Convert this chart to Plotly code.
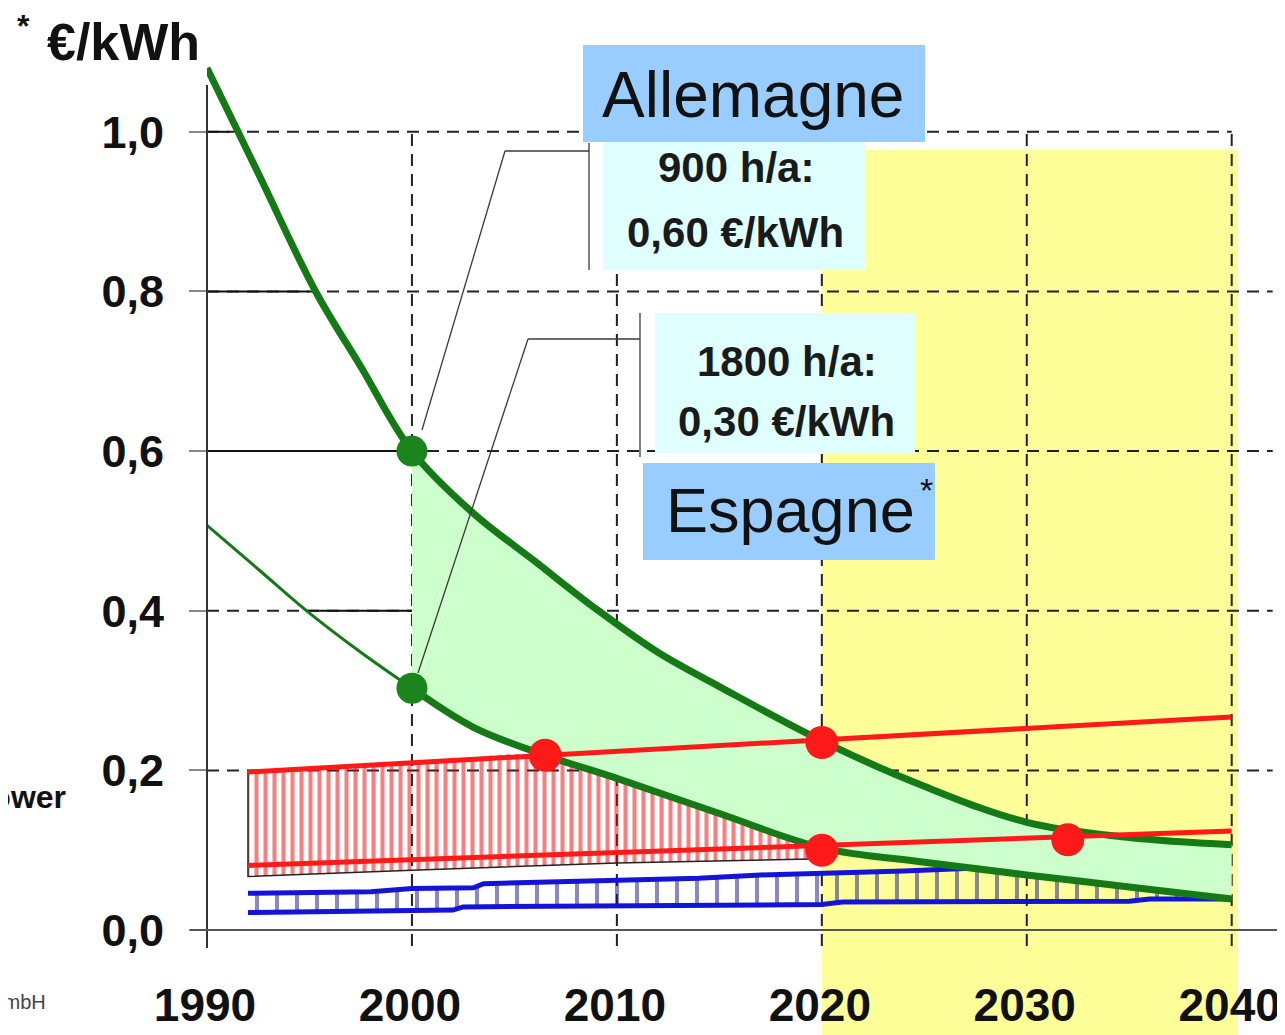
import plotly.graph_objects as go

# ---------------- data ----------------
x_tick_vals = [1990, 2000, 2010, 2020, 2030, 2040]
x_tick_text = ["1990", "2000", "2010", "2020", "2030", "2040"]
y_tick_vals = [0.0, 0.2, 0.4, 0.6, 0.8, 1.0]
y_tick_text = ["0,0", "0,2", "0,4", "0,6", "0,8", "1,0"]

# PV cost, 900 h/a (Allemagne)
upper_years = [1990, 1992.5, 1995.3, 1997.5, 2000, 2003, 2006, 2009, 2012, 2015, 2020, 2025, 2030, 2035, 2040]
upper_cost = [1.08, 0.948, 0.80, 0.706, 0.60, 0.522, 0.462, 0.402, 0.348, 0.305, 0.237, 0.180, 0.135, 0.116, 0.107]

# PV cost, 1800 h/a (Espagne)
lower_years = [1990, 1992.5, 1995, 1997.5, 2000, 2003, 2006.5, 2010, 2015, 2020, 2025, 2030, 2035, 2040]
lower_cost = [0.507, 0.452, 0.397, 0.348, 0.303, 0.254, 0.219, 0.190, 0.146, 0.103, 0.085, 0.069, 0.054, 0.039]

# retail power price band (red)
red_hi_years = [1992, 2040]
red_hi_cost = [0.198, 0.267]
red_lo_years = [1992, 2040]
red_lo_cost = [0.081, 0.124]

# red hatched area boundaries
hatch_bot_years = [1992, 1992, 2000, 2010, 2019.5]
hatch_bot_cost = [0.198, 0.067, 0.075, 0.084, 0.089]
hatch_top_years = [1992, 2000, 2006.5, 2010, 2015, 2019.5]
hatch_top_cost = [0.198, 0.209, 0.219, 0.190, 0.146, 0.106]

# bulk power band (blue)
blue_lo_years = [1992, 2002, 2002.5, 2012, 2020, 2021, 2035, 2036, 2040]
blue_lo_cost = [0.022, 0.025, 0.029, 0.031, 0.032, 0.035, 0.036, 0.039, 0.039]
blue_hi_years = [1992, 1998, 2000, 2003, 2003.5, 2007, 2010, 2014, 2017, 2021, 2024, 2027]
blue_hi_cost = [0.046, 0.048, 0.052, 0.053, 0.058, 0.060, 0.063, 0.065, 0.069, 0.071, 0.074, 0.077]
blue_env_years = [1992, 1998, 2000, 2003, 2003.5, 2007, 2010, 2014, 2017, 2021, 2024, 2027, 2030, 2035, 2040]
blue_env_cost = [0.046, 0.048, 0.052, 0.053, 0.058, 0.060, 0.063, 0.065, 0.069, 0.071, 0.074, 0.077, 0.069, 0.054, 0.039]

green_dot_years = [2000, 2000]
green_dot_cost = [0.60, 0.303]
red_dot_years = [2006.5, 2020, 2020, 2032]
red_dot_cost = [0.219, 0.235, 0.100, 0.113]

grid_x = [2000, 2010, 2020, 2030, 2040]
grid_y = [0.2, 0.4, 0.6, 0.8, 1.0]

# ---------------- layout helpers ----------------
OFF = 8                      # page body margin
W, H = 1285 - OFF, 1035 - OFF
L, R, T, B = 207 - OFF, 0, 52 - OFF, 89
X_RANGE = [1990, 2042.6]
Y_RANGE = [-0.02, 1.1]


def px(xp):
    return (xp - OFF - L) / (W - L - R)


def py(yp):
    return (H - B - (yp - OFF)) / (H - T - B)


FONT = "Liberation Sans, Arial, sans-serif"
GREEN_LINE = "#157a15"
GREEN_DOT = "#1c841c"
RED = "#ff1a1a"
BLUE = "#1414d8"

fig = go.Figure()


def after_year(years, vals, y0):
    xs = [x for x in years if x >= y0]
    vs = [v for x, v in zip(years, vals) if x >= y0]
    return xs, vs


def before_year(years, vals, y1):
    xs = [x for x in years if x <= y1]
    vs = [v for x, v in zip(years, vals) if x <= y1]
    return xs, vs


# green area between the two PV curves (from 2000)
lx, lv = after_year(lower_years, lower_cost, 2000)
ux, uv = after_year(upper_years, upper_cost, 2000)
fig.add_trace(go.Scatter(x=lx, y=lv, mode="lines", line=dict(width=0, shape="spline"),
                         hoverinfo="skip"))
fig.add_trace(go.Scatter(x=ux, y=uv, mode="lines", line=dict(width=0, shape="spline"),
                         fill="tonexty", fillcolor="#ccffcc", hoverinfo="skip"))

# red hatched area
fig.add_trace(go.Scatter(x=hatch_bot_years, y=hatch_bot_cost, mode="lines",
                         line=dict(color="#222222", width=1.5), hoverinfo="skip"))
fig.add_trace(go.Scatter(x=hatch_top_years, y=hatch_top_cost, mode="lines",
                         line=dict(width=0, shape="spline"), fill="tonexty",
                         fillcolor="rgba(0,0,0,0)",
                         fillpattern=dict(shape="|", size=9, solidity=0.45,
                                          fgcolor="#f00000", bgcolor="rgba(255,255,255,0)"),
                         hoverinfo="skip"))

# blue hatched band
fig.add_trace(go.Scatter(x=blue_lo_years, y=blue_lo_cost, mode="lines",
                         line=dict(color=BLUE, width=5), hoverinfo="skip"))
fig.add_trace(go.Scatter(x=blue_env_years, y=blue_env_cost, mode="lines",
                         line=dict(width=0), fill="tonexty", fillcolor="rgba(0,0,0,0)",
                         fillpattern=dict(shape="|", size=20, solidity=0.2,
                                          fgcolor="#141480", bgcolor="rgba(255,255,255,0)"),
                         hoverinfo="skip"))
fig.add_trace(go.Scatter(x=blue_hi_years, y=blue_hi_cost, mode="lines",
                         line=dict(color=BLUE, width=5), hoverinfo="skip"))

# green PV curves
fig.add_trace(go.Scatter(x=upper_years, y=upper_cost, mode="lines",
                         line=dict(color=GREEN_LINE, width=7, shape="spline"), hoverinfo="skip"))
bx, bv = before_year(lower_years, lower_cost, 2000)
fig.add_trace(go.Scatter(x=bx, y=bv, mode="lines",
                         line=dict(color=GREEN_LINE, width=3, shape="spline"), hoverinfo="skip"))
fig.add_trace(go.Scatter(x=lx, y=lv, mode="lines",
                         line=dict(color=GREEN_LINE, width=7, shape="spline"), hoverinfo="skip"))

# red price lines
fig.add_trace(go.Scatter(x=red_hi_years, y=red_hi_cost, mode="lines",
                         line=dict(color=RED, width=5), hoverinfo="skip"))
fig.add_trace(go.Scatter(x=red_lo_years, y=red_lo_cost, mode="lines",
                         line=dict(color=RED, width=5), hoverinfo="skip"))

# dots
fig.add_trace(go.Scatter(x=green_dot_years, y=green_dot_cost, mode="markers",
                         marker=dict(color=GREEN_DOT, size=31, line=dict(width=0)), hoverinfo="skip"))
fig.add_trace(go.Scatter(x=red_dot_years, y=red_dot_cost, mode="markers",
                         marker=dict(color=RED, size=33, line=dict(width=0)), hoverinfo="skip"))

shapes = []
# yellow future zone (behind everything)
shapes.append(dict(type="rect", xref="paper", yref="paper", layer="below",
                   x0=px(822), x1=px(1238), y0=py(1040), y1=py(150),
                   fillcolor="#ffff99", line=dict(width=0)))
# dashed grid
for xv in grid_x:
    shapes.append(dict(type="line", xref="x", yref="y", layer="below",
                       x0=xv, x1=xv, y0=-0.02, y1=1.0,
                       line=dict(color="#222222", width=2, dash="12px,8px")))
for yv in grid_y:
    shapes.append(dict(type="line", xref="x", yref="y", layer="below",
                       x0=1990, x1=(2040 if yv >= 1.0 else 2042), y0=yv, y1=yv,
                       line=dict(color="#222222", width=2, dash="12px,8px")))
# solid segments on the left
for (xa, xb, yv) in [(1990, 1991.1, 1.0), (1990, 1995.0, 0.8), (1990, 2000, 0.6), (1994.8, 2000, 0.4)]:
    shapes.append(dict(type="line", xref="x", yref="y", layer="below",
                       x0=xa, x1=xb, y0=yv, y1=yv, line=dict(color="#111111", width=2)))
# axes lines
shapes.append(dict(type="line", xref="paper", yref="paper", layer="above",
                   x0=px(207), x1=px(207), y0=py(948), y1=py(85),
                   line=dict(color="#333333", width=2)))
shapes.append(dict(type="line", xref="paper", yref="paper", layer="above",
                   x0=px(190), x1=px(1285), y0=py(930), y1=py(930),
                   line=dict(color="#555555", width=2)))
# leader lines
for (a, b) in [((422, 430), (505, 151)), ((505, 151), (589, 151)), ((589, 143), (589, 270)),
               ((418, 673), (528, 339)), ((528, 339), (640, 339)), ((640, 313), (640, 457))]:
    shapes.append(dict(type="line", xref="paper", yref="paper", layer="above",
                       x0=px(a[0]), y0=py(a[1]), x1=px(b[0]), y1=py(b[1]),
                       line=dict(color="#3a3a3a", width=1.3)))
# label boxes
for (x0, y0, x1, y1, col) in [(603, 141, 865, 270, "#e0ffff"), (655, 313, 915, 453, "#e0ffff"),
                              (583, 45, 925, 142, "#99ccff"), (643, 463, 935, 560, "#99ccff")]:
    shapes.append(dict(type="rect", xref="paper", yref="paper", layer="above",
                       x0=px(x0), x1=px(x1), y0=py(y1), y1=py(y0),
                       fillcolor=col, line=dict(width=0)))

annotations = []


def ann(text, xp, yp, size, bold=False, xanchor="center", color="#111111"):
    annotations.append(dict(text=text, xref="paper", yref="paper", x=px(xp), y=py(yp),
                            xanchor=xanchor, yanchor="middle", showarrow=False,
                            font=dict(family=FONT, size=size, color=color,
                                      weight="bold" if bold else "normal")))


ann("Allemagne", 753, 95, 64)
ann("Espagne", 790, 510, 63)
ann("*", 926, 490, 34)
ann("900 h/a:", 736, 168, 42, bold=True, color="#1a1a1a")
ann("0,60 €/kWh", 735, 232, 42, bold=True, color="#1a1a1a")
ann("1800 h/a:", 787, 361, 42, bold=True, color="#1a1a1a")
ann("0,30 €/kWh", 786, 421, 42, bold=True, color="#1a1a1a")
ann("€/kWh", 45, 42, 52, bold=True, xanchor="left")
ann("*", 23, 26, 32, bold=True)
ann("Power", 68, 797, 32, bold=True, xanchor="right")
ann("GmbH", 48, 1002, 20, xanchor="right", color="#444444")

fig.update_layout(
    width=W, height=H,
    margin=dict(l=L, r=R, t=T, b=B, pad=0),
    paper_bgcolor="white", plot_bgcolor="rgba(0,0,0,0)",
    showlegend=False, hovermode=False,
    shapes=shapes, annotations=annotations,
    xaxis=dict(range=X_RANGE, showgrid=False, zeroline=False, showline=False,
               automargin=False, ticklabeloverflow="allow",
               tickvals=x_tick_vals, ticktext=x_tick_text, ticks="",
               ticklabelstandoff=28, ticklabelshift=-2,
               tickfont=dict(family=FONT, size=46, color="#111111", weight="bold")),
    yaxis=dict(range=Y_RANGE, showgrid=False, zeroline=False, showline=False,
               automargin=False, ticklabeloverflow="allow",
               tickvals=y_tick_vals, ticktext=y_tick_text, ticks="outside",
               ticklen=17, tickwidth=2, tickcolor="#888888",
               ticklabelstandoff=16,
               tickfont=dict(family=FONT, size=45, color="#111111", weight="bold")),
)

fig.write_html("out.html")
